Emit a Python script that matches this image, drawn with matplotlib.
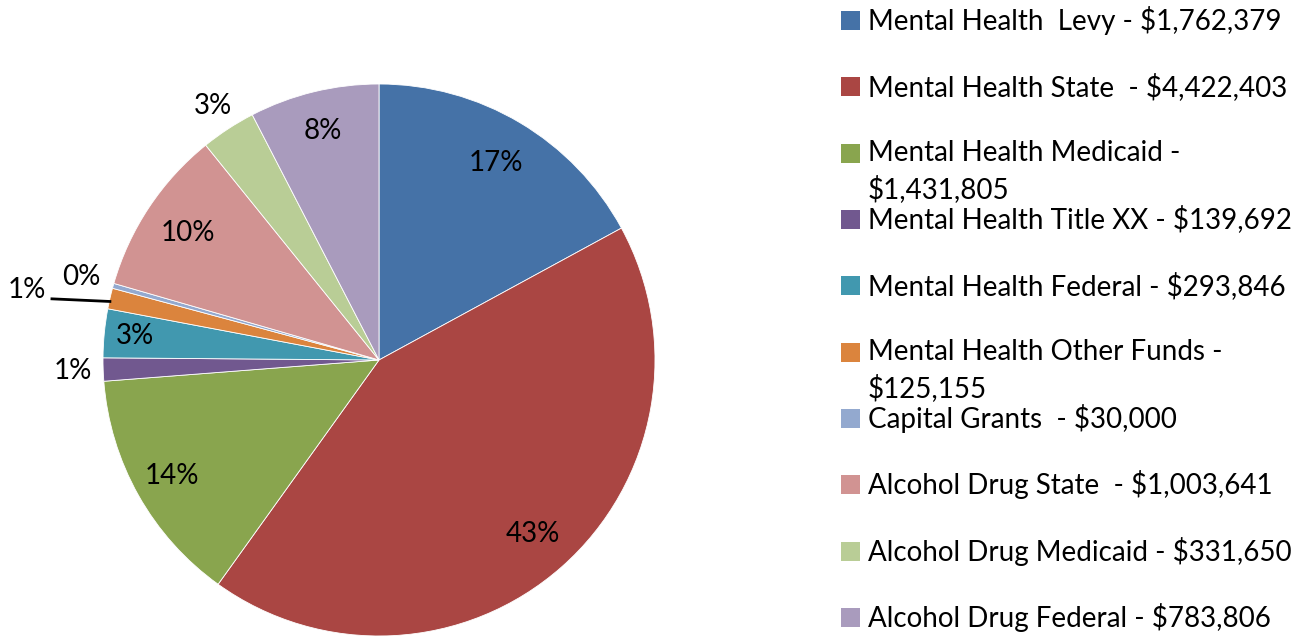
import numpy as np
import matplotlib
matplotlib.use('Agg')
from matplotlib import pyplot as plt
from matplotlib.patches import Rectangle

plt.rcParams['font.family'] = ['Lato', 'DejaVu Sans']

# funding sources (dollars)
sources = ['Mental Health Levy', 'Mental Health State', 'Mental Health Medicaid',
           'Mental Health Title XX', 'Mental Health Federal', 'Mental Health Other Funds',
           'Capital Grants', 'Alcohol Drug State', 'Alcohol Drug Medicaid',
           'Alcohol Drug Federal']
amounts = [1762379, 4422403, 1431805, 139692, 293846, 125155, 30000,
           1003641, 331650, 783806]
legend_labels = ['Mental Health  Levy - $1,762,379',
                 'Mental Health State  - $4,422,403',
                 'Mental Health Medicaid -\n$1,431,805',
                 'Mental Health Title XX - $139,692',
                 'Mental Health Federal - $293,846',
                 'Mental Health Other Funds -\n$125,155',
                 'Capital Grants  - $30,000',
                 'Alcohol Drug State  - $1,003,641',
                 'Alcohol Drug Medicaid - $331,650',
                 'Alcohol Drug Federal - $783,806']

colors = ['#4572A7', '#AA4643', '#89A54E', '#71588F', '#4198AF',
          '#DB843D', '#93A9CF', '#D19392', '#B9CD96', '#A99BBD']
# how far out each percent label sits (pie radius = 1); None -> leader line
label_r = [0.83, 0.84, 0.86, 1.11, 0.89, None, 1.12, 0.83, 1.10, 0.855]

W, H = 1315, 637
fig = plt.figure(figsize=(W / 100, H / 100), dpi=100)
cx, cy, R = 379, 360, 276
ax = fig.add_axes([(cx - R) / W, (H - cy - R) / H, 2 * R / W, 2 * R / H])

wedges, _ = ax.pie(amounts, colors=colors, startangle=90, counterclock=False,
                   radius=1, wedgeprops=dict(edgecolor='white', linewidth=0.6))
ax.set_xlim(-1, 1)
ax.set_ylim(-1, 1)
ax.set_aspect('equal')
ax.axis('off')

fs = 20
total = float(sum(amounts))
for i, w in enumerate(wedges):
    mid = np.deg2rad((w.theta1 + w.theta2) / 2)
    pct = f"{round(100 * amounts[i] / total)}%"
    if label_r[i] is None:
        # small slice: horizontal leader line out to the left
        x0, y0 = 0.995 * np.cos(mid), 0.995 * np.sin(mid)
        ax.plot([x0, -1.19], [y0 - 0.01, y0], color='black', lw=2,
                clip_on=False, solid_capstyle='butt')
        ax.text(-1.205, y0 + 0.03, pct, ha='right', va='center', fontsize=fs,
                clip_on=False)
        continue
    x, y = label_r[i] * np.cos(mid), label_r[i] * np.sin(mid)
    ax.text(x, y, pct, ha='center', va='center', fontsize=fs, clip_on=False)

# legend on the right
top = 20.5
pitch = 66.33
for i, lab in enumerate(legend_labels):
    yc = top + i * pitch
    fig.patches.append(Rectangle((841 / W, 1 - (yc + 9.5) / H), 19 / W, 19 / H,
                                 transform=fig.transFigure, facecolor=colors[i],
                                 edgecolor='none'))
    for j, line in enumerate(lab.split('\n')):
        fig.text(868 / W, 1 - (yc + j * 36) / H, line, ha='left', va='center',
                 fontsize=fs)

fig.savefig('out.png', dpi=100)
